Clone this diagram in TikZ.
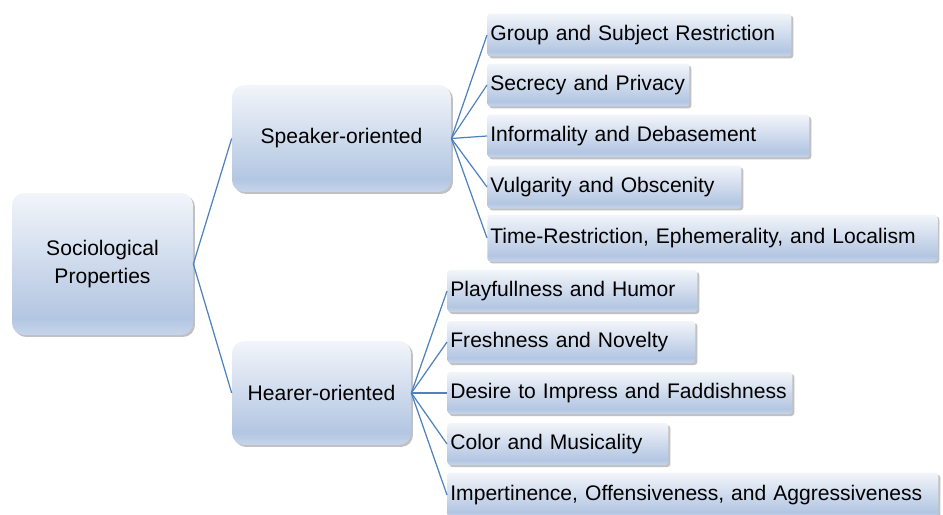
\documentclass[tikz,border=0pt]{standalone}
\usepackage{fontspec}
\setmainfont{Liberation Sans}
\usetikzlibrary{shadows}

\definecolor{shadetop}{HTML}{F2F5FA}
\definecolor{shademid}{HTML}{B3C6E2}
\definecolor{shadebot}{HTML}{C6D5EA}
\definecolor{linkblue}{HTML}{4F81BD}
\pgfdeclareverticalshading{boxshade}{100bp}{color(0bp)=(shadebot); color(25bp)=(shadebot); color(31bp)=(shademid); color(75bp)=(shadetop); color(100bp)=(shadetop)}

\tikzset{
  box/.style={shading=boxshade, draw=none, font=\fontsize{12}{16}\selectfont,
    drop shadow={shadow xshift=0.04cm, shadow yshift=-0.04cm, opacity=0.35, fill=black!70}},
  topic/.style={box, rounded corners=0.24cm, align=center},
  leaf/.style={box, rounded corners=0.06cm, anchor=west, minimum height=0.86cm,
    inner xsep=0.06cm, text width=#1, align=left},
  link/.style={draw=linkblue, line width=0.7pt}
}

\begin{document}
\begin{tikzpicture}[x=0.02cm, y=-0.02cm]
  \useasboundingbox (0,0) rectangle (943,514);

  \node[topic, minimum width=3.62cm, minimum height=2.84cm] (root) at (102.5,264) {Sociological\\Properties};
  \node[topic, minimum width=4.38cm, minimum height=2.14cm] (speaker) at (341.5,138.5) {Speaker-oriented};
  \node[topic, minimum width=3.58cm, minimum height=2.08cm] (hearer) at (321.5,393) {Hearer-oriented};

  \node[leaf=5.96cm] (group) at (487,35) {Group and Subject Restriction};
  \node[leaf=3.92cm] (secrecy) at (487,85) {Secrecy and Privacy};
  \node[leaf=6.32cm] (informal) at (487,136) {Informality and Debasement};
  \node[leaf=4.96cm] (vulgar) at (487,187) {Vulgarity and Obscenity};
  \node[leaf=8.88cm, minimum height=0.94cm] (time) at (487,238) {Time-Restriction, Ephemerality, and Localism};

  \node[leaf=4.88cm, minimum height=0.84cm] (playful) at (447,291) {Playfullness and Humor};
  \node[leaf=4.84cm, minimum height=0.84cm] (fresh) at (447,342) {Freshness and Novelty};
  \node[leaf=6.78cm, minimum height=0.84cm] (desire) at (447,393) {Desire to Impress and Faddishness};
  \node[leaf=4.30cm, minimum height=0.84cm] (color) at (447,444) {Color and Musicality};
  \node[leaf=9.70cm, minimum height=0.90cm] (impert) at (447,495) {Impertinence, Offensiveness, and Aggressiveness};

  \draw[link] (root.east) -- (speaker.west);
  \draw[link] (root.east) -- (hearer.west);

  \draw[link] (speaker.east) -- (group.west);
  \draw[link] (speaker.east) -- (secrecy.west);
  \draw[link] (speaker.east) -- (informal.west);
  \draw[link] (speaker.east) -- (vulgar.west);
  \draw[link] (speaker.east) -- (time.west);

  \draw[link] (hearer.east) -- (playful.west);
  \draw[link] (hearer.east) -- (fresh.west);
  \draw[link] (hearer.east) -- (desire.west);
  \draw[link] (hearer.east) -- (color.west);
  \draw[link] (hearer.east) -- (impert.west);
\end{tikzpicture}
\end{document}
